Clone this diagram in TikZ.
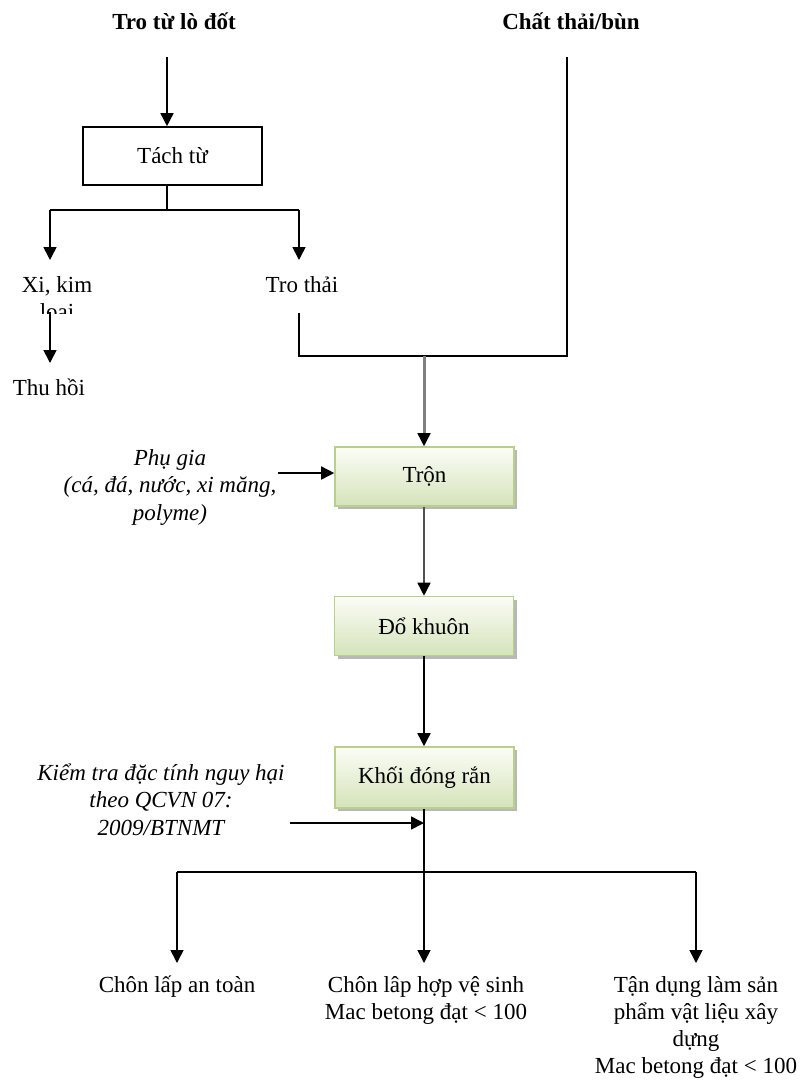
\documentclass[tikz,border=0pt]{standalone}
\usepackage{fontspec}
\setmainfont{Liberation Serif}
\usetikzlibrary{arrows.meta,shadows,calc}

\definecolor{boxtop}{RGB}{251,253,247}
\definecolor{boxbot}{RGB}{213,227,186}
\definecolor{boxline}{RGB}{186,207,140}
\definecolor{feedgray}{RGB}{128,128,128}
\definecolor{darkgray}{RGB}{80,80,80}

\begin{document}
\begin{tikzpicture}[x=1pt,y=-1pt,
  lbl/.style={font=\fontsize{23}{27}\selectfont, inner sep=0pt, align=center, anchor=base},
  note/.style={lbl, font=\fontsize{23}{27.5}\selectfont\itshape},
  head/.style={lbl, font=\fontsize{23}{27}\selectfont\bfseries},
  plainbox/.style={draw=black, line width=1.6pt, minimum width=179pt, minimum height=58pt,
    inner sep=0pt, font=\fontsize{23}{27}\selectfont},
  stepbox/.style={draw=boxline, line width=1.6pt, top color=boxtop, bottom color=boxbot,
    minimum width=179pt, minimum height=59pt, inner sep=0pt, font=\fontsize{23}{27}\selectfont,
    drop shadow={shadow xshift=3pt, shadow yshift=-3pt, fill=black!28, opacity=1}},
  flow/.style={line width=1.6pt, -{Triangle[length=13pt,width=13pt]}},
  link/.style={line width=1.6pt},
]
\useasboundingbox (0,0) rectangle (800,1080);

% sources
\node[head] (ash) at (174,29) {Tro từ lò đốt};
\node[head] (sludge) at (571,29) {Chất thải/bùn};

% magnetic separation
\node[plainbox] (tach) at (172.5,156) {Tách từ};
\coordinate (a1) at (167,57);
\draw[flow] (a1) -- (a1 |- tach.north);

\coordinate (s1) at (167,210);
\coordinate (sl) at (50,210);
\coordinate (sr) at (299,210);
\coordinate (slend) at (50,260);
\coordinate (srend) at (299,260);
\draw[link] (s1 |- tach.south) -- (s1);
\draw[link] (sl) -- (sr);
\draw[flow] (sl) -- (slend);
\draw[flow] (sr) -- (srend);

% separated fractions (second line cut off by the frame below it)
\begin{scope}
  \clip (0,262) rectangle (150,313);
  \node[lbl] (xi) at (57,319) {Xi, kim\\loại};
\end{scope}
\node[lbl] (tro) at (302,292) {Tro thải};

\coordinate (x1) at (50,312);
\coordinate (x2) at (50,363);
\draw[flow] (x1) -- (x2);
\node[lbl] (thuhoi) at (49,395) {Thu hồi};

% merge of ash and sludge
\coordinate (t1) at (299,313);
\coordinate (t2) at (299,356);
\coordinate (c1) at (567,57);
\coordinate (c2) at (567,356);
\coordinate (j) at (424,356);
\draw[link] (t1) -- (t2) -- (c2) -- (c1);

% stabilisation steps
\node[stepbox] (tron) at (424.5,476.5) {Trộn};
\node[stepbox] (dokhuon) at (424,626) {Đổ khuôn};
\node[stepbox, minimum height=61pt] (khoi) at (424.5,777.5) {Khối đóng rắn};

\draw[line width=3pt, feedgray] (j) -- ($(j |- tron.north)+(0,-11)$);
\draw[flow] ($(j |- tron.north)+(0,-12)$) -- (j |- tron.north);
\draw[line width=2.5pt, darkgray] (j |- tron.south) -- ($(j |- dokhuon.north)+(0,-11)$);
\draw[flow] ($(j |- dokhuon.north)+(0,-12)$) -- (j |- dokhuon.north);
\draw[flow] (j |- dokhuon.south) -- (j |- khoi.north);

% additives
\node[note] (phugia) at (170,520) {Phụ gia\\(cá, đá, nước, xi măng,\\polyme)};
\coordinate (p1) at (278,473);
\draw[flow] (p1) -- (p1 -| tron.west);

% hazard test
\node[note] (kiemtra) at (161,835) {Kiểm tra đặc tính nguy hại\\theo QCVN 07:\\2009/BTNMT};
\coordinate (k1) at (290,823);
\coordinate (k2) at (424,823);
\draw[flow] (k1) -- (k2);

% outlets
\coordinate (b0) at (424,872);
\coordinate (bl) at (177,872);
\coordinate (br) at (696,872);
\coordinate (blend) at (177,963);
\coordinate (bmend) at (424,963);
\coordinate (brend) at (696,963);
\draw[link] (j |- khoi.south) -- (b0);
\draw[link] (bl) -- (br);
\draw[flow] (bl) -- (blend);
\draw[flow] (b0) -- (bmend);
\draw[flow] (br) -- (brend);

\node[lbl] (out1) at (177,992) {Chôn lấp an toàn};
\node[lbl] (out2) at (426,1019) {Chôn lâp hợp vệ sinh\\Mac betong đạt < 100};
\node[lbl] (out3) at (696,1073) {Tận dụng làm sản\\phẩm vật liệu xây\\dựng\\Mac betong đạt < 100};
\end{tikzpicture}
\end{document}
